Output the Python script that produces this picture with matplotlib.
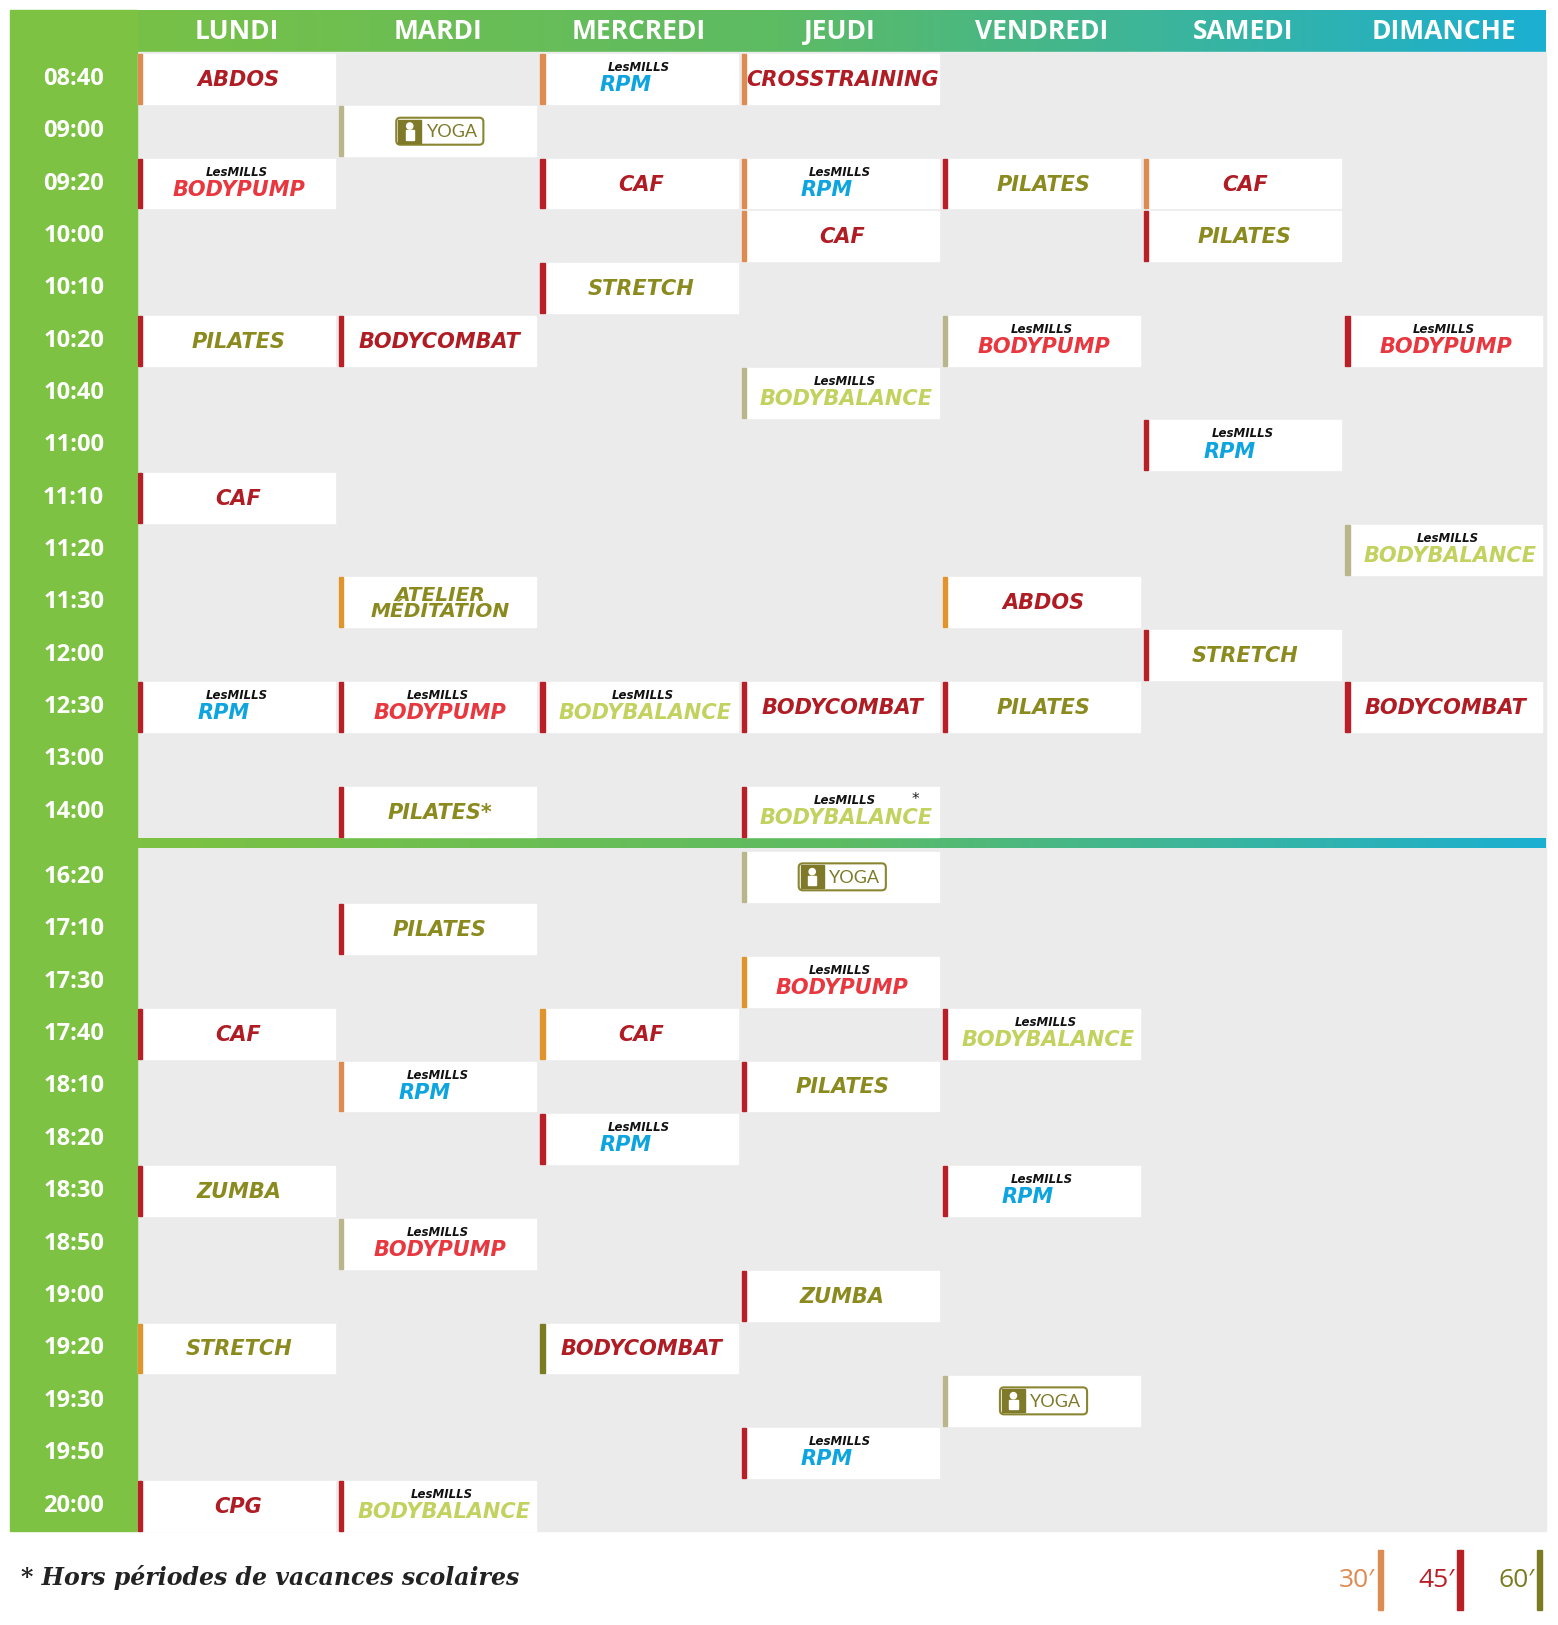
import matplotlib
matplotlib.use("Agg")
import matplotlib.pyplot as plt
import numpy as np
from matplotlib.patches import Rectangle, FancyBboxPatch
from matplotlib.colors import LinearSegmentedColormap

days = ["LUNDI", "MARDI", "MERCREDI", "JEUDI", "VENDREDI", "SAMEDI", "DIMANCHE"]
times_am = ["08:40", "09:00", "09:20", "10:00", "10:10", "10:20", "10:40", "11:00",
            "11:10", "11:20", "11:30", "12:00", "12:30", "13:00", "14:00"]
times_pm = ["16:20", "17:10", "17:30", "17:40", "18:10", "18:20", "18:30", "18:50",
            "19:00", "19:20", "19:30", "19:50", "20:00"]

class_time = ["08:40", "08:40", "08:40", "09:00",
              "09:20", "09:20", "09:20", "09:20", "09:20",
              "10:00", "10:00", "10:10",
              "10:20", "10:20", "10:20", "10:20",
              "10:40", "11:00", "11:10", "11:20", "11:30", "11:30", "12:00",
              "12:30", "12:30", "12:30", "12:30", "12:30", "12:30",
              "14:00", "14:00",
              "16:20", "17:10", "17:30", "17:40", "17:40", "17:40",
              "18:10", "18:10", "18:20", "18:30", "18:30", "18:50", "19:00",
              "19:20", "19:20", "19:30", "19:50", "20:00", "20:00"]
class_day = ["LUNDI", "MERCREDI", "JEUDI", "MARDI",
             "LUNDI", "MERCREDI", "JEUDI", "VENDREDI", "SAMEDI",
             "JEUDI", "SAMEDI", "MERCREDI",
             "LUNDI", "MARDI", "VENDREDI", "DIMANCHE",
             "JEUDI", "SAMEDI", "LUNDI", "DIMANCHE", "MARDI", "VENDREDI", "SAMEDI",
             "LUNDI", "MARDI", "MERCREDI", "JEUDI", "VENDREDI", "DIMANCHE",
             "MARDI", "JEUDI",
             "JEUDI", "MARDI", "JEUDI", "LUNDI", "MERCREDI", "VENDREDI",
             "MARDI", "JEUDI", "MERCREDI", "LUNDI", "VENDREDI", "MARDI", "JEUDI",
             "LUNDI", "MERCREDI", "VENDREDI", "JEUDI", "LUNDI", "MARDI"]
class_name = ["ABDOS", "RPM", "CROSSTRAINING", "YOGA",
              "BODYPUMP", "CAF", "RPM", "PILATES", "CAF",
              "CAF", "PILATES", "STRETCH",
              "PILATES", "BODYCOMBAT", "BODYPUMP", "BODYPUMP",
              "BODYBALANCE", "RPM", "CAF", "BODYBALANCE", "ATELIER\nMÉDITATION", "ABDOS", "STRETCH",
              "RPM", "BODYPUMP", "BODYBALANCE", "BODYCOMBAT", "PILATES", "BODYCOMBAT",
              "PILATES*", "BODYBALANCE*",
              "YOGA", "PILATES", "BODYPUMP", "CAF", "CAF", "BODYBALANCE",
              "RPM", "PILATES", "RPM", "ZUMBA", "RPM", "BODYPUMP", "ZUMBA",
              "STRETCH", "BODYCOMBAT", "YOGA", "RPM", "CPG", "BODYBALANCE"]
class_bar = ["o", "o", "o", "k",
             "r", "r", "o", "r", "o",
             "o", "r", "r",
             "r", "r", "k", "r",
             "k", "r", "r", "k", "a", "a", "r",
             "r", "r", "r", "r", "r", "r",
             "r", "r",
             "k", "r", "a", "r", "a", "r",
             "o", "r", "r", "r", "r", "k", "r",
             "a", "g", "k", "r", "r", "r"]

bar_colors = {"o": "#DE8B52", "a": "#E0952C", "r": "#B91F27", "g": "#7B7C22", "k": "#B8B68A"}
RED_T = "#B01C24"
OLV_T = "#8B8A1F"
PUMP = "#E8373F"
RPMC = "#0DA4DF"
BAL = "#C3D15E"
GREEN = "#7DC242"
CYAN = "#1BAFD2"

W, H = 1502, 1566
fig = plt.figure(figsize=(15.58, 16.25), dpi=100)
ax = fig.add_axes([0, 0, 1, 1])
ax.set_xlim(0, W)
ax.set_ylim(H, 0)
ax.axis("off")

gcmap = LinearSegmentedColormap.from_list("g", [GREEN, "#5DBB63", CYAN])
grad = np.linspace(0, 1, 256).reshape(1, -1)

ax.imshow(grad, cmap=gcmap, extent=(10, 1490, 50, 10), aspect="auto", zorder=1)
ax.add_patch(Rectangle((132, 50), 1358, 1425, color="#EBEBEB", zorder=1))
ax.add_patch(Rectangle((10, 10), 122, 1465, color=GREEN, zorder=2))
ax.imshow(grad, cmap=gcmap, extent=(132, 1490, 817, 808), aspect="auto", zorder=3)

col_left0, col_pitch, box_w = 133, 194.0, 190
for i, d in enumerate(days):
    ax.text(col_left0 + col_pitch * i + box_w / 2, 30, d, color="white", fontsize=19,
            fontweight="bold", family="Open Sans", ha="center", va="center", zorder=4)

row_y = {}
for i, t in enumerate(times_am):
    row_y[t] = 76 + 50.45 * i
for j, t in enumerate(times_pm):
    row_y[t] = 845 + 50.5 * j
for t, y in row_y.items():
    ax.text(71, y, t, color="white", fontsize=17, fontweight="bold", family="Open Sans",
            ha="center", va="center", zorder=4)


def lesmills(cx, y, prog, color, left=False):
    ax.text(cx - 2, y - 11, "LesMILLS", fontsize=8.5, fontweight="bold", style="italic",
            color="#111111", ha="center", va="center", zorder=6)
    if left:
        ax.text(cx - 40, y + 6, prog, fontsize=15, fontweight="bold", style="italic",
                color=color, ha="left", va="center", zorder=6)
    else:
        ax.text(cx, y + 6, prog, fontsize=15, fontweight="bold", style="italic",
                color=color, ha="center", va="center", zorder=6)


def yoga(cx, y):
    ax.add_patch(FancyBboxPatch((cx - 42, y - 13), 84, 26, boxstyle="round,pad=0,rounding_size=4",
                                fc="white", ec="#8A8530", lw=1.5, zorder=6))
    ax.add_patch(Rectangle((cx - 40, y - 11), 22, 22, color="#7E7A2A", zorder=7))
    ax.add_patch(plt.Circle((cx - 29, y - 5), 3, color="white", zorder=8))
    ax.add_patch(Rectangle((cx - 33, y - 1), 8, 9, color="white", zorder=8))
    ax.text(cx + 12, y + 1, "YOGA", fontsize=13, color="#7E7A2A", family="Lato",
            ha="center", va="center", zorder=7)


for t, d, n, b in zip(class_time, class_day, class_name, class_bar):
    ci = days.index(d)
    x0 = col_left0 + col_pitch * ci
    y = row_y[t]
    ax.add_patch(Rectangle((x0, y - 24), box_w, 48, color="white", zorder=4))
    ax.add_patch(Rectangle((x0, y - 24), 4, 48, color=bar_colors[b], zorder=5))
    cx = x0 + box_w / 2 + 2
    base = n.rstrip("*")
    star = n.endswith("*")
    if base == "YOGA":
        yoga(cx, y)
    elif base == "BODYPUMP":
        lesmills(cx, y, base, PUMP)
    elif base == "RPM":
        lesmills(cx, y, base, RPMC, left=True)
    elif base == "BODYBALANCE":
        lesmills(cx + 4, y, base, BAL)
        if star:
            ax.text(cx + 70, y - 12, "*", fontsize=11, color="#222222", ha="center",
                    va="center", zorder=6)
    else:
        color = RED_T if base in ("ABDOS", "CAF", "CROSSTRAINING", "BODYCOMBAT", "CPG") else OLV_T
        ax.text(cx, y + 1, n, fontsize=15 if "\n" not in n else 14.5, fontweight="bold",
                style="italic", color=color, ha="center", va="center", zorder=6,
                linespacing=0.85)

ax.text(20, 1520, "* Hors périodes de vacances scolaires", fontsize=17, family="DejaVu Serif",
        fontweight="bold", style="italic", color="#222222", ha="left", va="center")
leg_lab = ["30′", "45′", "60′"]
leg_col = ["#DE8B52", "#B91F27", "#7B7C22"]
for k, (lab, c) in enumerate(zip(leg_lab, leg_col)):
    xb = 1330 + 77 * k
    ax.text(xb - 22, 1523, lab, fontsize=19, color=c, family="Open Sans", ha="center", va="center")
    ax.add_patch(Rectangle((xb - 2, 1494), 5, 58, color=c))

fig.savefig("out.png", dpi=100)
